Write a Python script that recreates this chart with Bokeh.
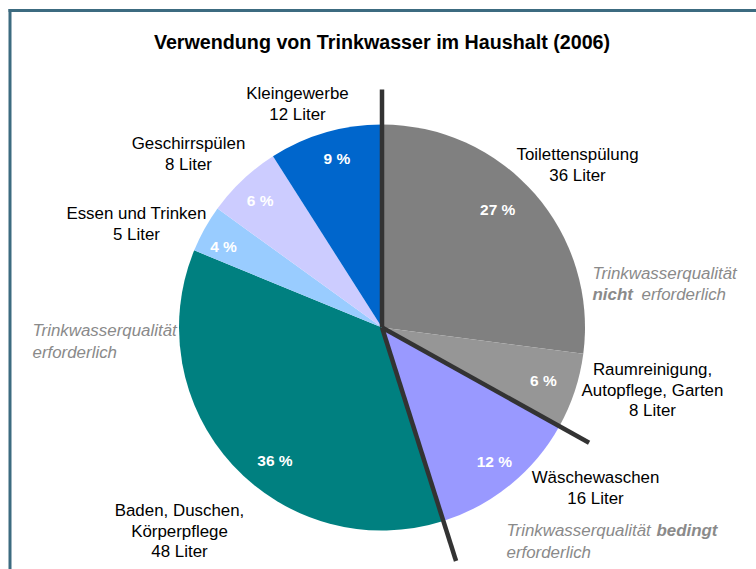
import math
from bokeh.plotting import figure
from bokeh.models import Range1d, ColumnDataSource
from bokeh.core.properties import value
from bokeh.embed import file_html
from bokeh.resources import INLINE

# ---------------- data ----------------
title = "Verwendung von Trinkwasser im Haushalt (2006)"
categories = ["Toilettenspülung", "Raumreinigung,\nAutopflege, Garten", "Wäschewaschen",
              "Baden, Duschen,\nKörperpflege", "Essen und Trinken", "Geschirrspülen", "Kleingewerbe"]
liters = [36, 8, 16, 48, 5, 8, 12]
colors = ["#808080", "#969696", "#9999FF", "#008080", "#99CCFF", "#CCCCFF", "#0066CC"]
# dark boundary lines start at the beginning of these slices
divider_after = [0, 2, 3]

# ---------------- layout (page pixel coordinates) ----------------
W, H = 756, 569
CX, CY, R = 381.5, 327.0, 203.0
FONT = "Liberation Sans"

def Y(py):
    return H - py  # page y -> data y

# label anchors (center x, y of first line)
label_pos = [(577, 154), (652, 369), (595, 477), (179, 510), (136, 213), (188, 143), (297, 93)]
pct_r = [165, 170, 175, 171, 178, 176, 175]
pct_dang = [-4.2, 0.0, -0.7, -8.6, -2.0, -0.5, 1.3]
line_len = [238, 237, 245]
LH = 20.5
FS = "16.9px"

p = figure(width=W, height=H, x_range=Range1d(0, W), y_range=Range1d(0, H),
           output_backend="svg", toolbar_location=None, min_border=0,
           x_axis_location=None, y_axis_location=None)
p.grid.visible = False
p.outline_line_color = None
p.background_fill_color = "white"

total = sum(liters)
cum = [0.0]
for v in liters:
    cum.append(cum[-1] + v / total)

starts = [math.pi / 2 - 2 * math.pi * cum[i] for i in range(len(liters))]
ends = [math.pi / 2 - 2 * math.pi * cum[i + 1] for i in range(len(liters))]
src = ColumnDataSource(dict(start=starts, end=ends, color=colors))
p.wedge(x=CX, y=Y(CY), radius=R, start_angle="start", end_angle="end", direction="clock",
        fill_color="color", line_color=None, source=src)

# percentage labels
px, py, pt = [], [], []
for i, v in enumerate(liters):
    mid = 360 * (cum[i] + cum[i + 1]) / 2 + pct_dang[i]
    a = math.radians(mid)
    px.append(CX + pct_r[i] * math.sin(a))
    py.append(Y(CY - pct_r[i] * math.cos(a)))
    pt.append(f"{round(v / total * 100)} %")
p.text(x=px, y=py, text=pt, text_color="white", text_font=value(FONT), text_font_size="15.5px",
       text_font_style="bold", text_align="center", text_baseline="middle")

# category labels
lx, ly, lt = [], [], []
for i, name in enumerate(categories):
    lines = name.split("\n") + [f"{liters[i]} Liter"]
    x0, y0 = label_pos[i]
    for k, s in enumerate(lines):
        lx.append(x0)
        ly.append(Y(y0 + k * LH))
        lt.append(s)
p.text(x=lx, y=ly, text=lt, text_color="black", text_font=value(FONT), text_font_size=FS,
       text_align="center", text_baseline="middle")

# dark divider lines
xs, ys = [], []
for j, idx in enumerate(divider_after):
    a = 2 * math.pi * cum[idx]
    xs.append([CX, CX + line_len[j] * math.sin(a)])
    ys.append([Y(CY), Y(CY - line_len[j] * math.cos(a))])
p.multi_line(xs=xs, ys=ys, line_color="#333333", line_width=4.5)

# grey annotations
GREY = "#8a8a8a"
ann = [
    (592, 273, "Trinkwasserqualität", "italic"),
    (592, 293.5, "nicht", "bold italic"),
    (641, 293.5, "erforderlich", "italic"),
    (32, 329.5, "Trinkwasserqualität", "italic"),
    (32, 351.5, "erforderlich", "italic"),
    (506, 530, "Trinkwasserqualität", "italic"),
    (656, 530, "bedingt", "bold italic"),
    (506, 551.5, "erforderlich", "italic"),
]
for style in ["italic", "bold italic"]:
    sel = [a for a in ann if a[3] == style]
    p.text(x=[a[0] for a in sel], y=[Y(a[1]) for a in sel], text=[a[2] for a in sel],
           text_color=GREY, text_font=value(FONT), text_font_size=FS,
           text_font_style=style, text_align="left", text_baseline="middle")

# title
p.text(x=[381.5], y=[Y(41)], text=[title], text_color="black", text_font=value(FONT),
       text_font_size="19.7px", text_font_style="bold", text_align="center", text_baseline="middle")

# frame (left and top edges visible; right and bottom lie outside the window)
p.multi_line(xs=[[9.5, 9.5], [8, 770]], ys=[[Y(8.5), Y(600)], [Y(10), Y(10)]],
             line_color="#3C6B80", line_width=3)

open("out.html", "w").write(file_html(p, INLINE))
